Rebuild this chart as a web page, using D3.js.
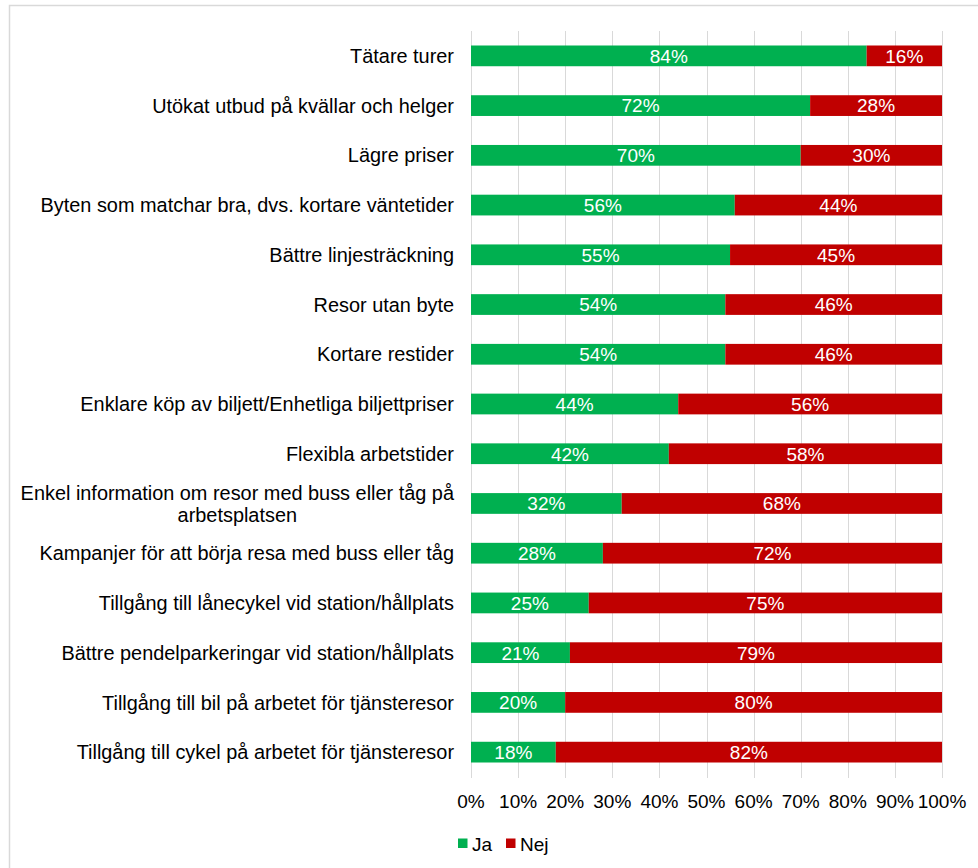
<!DOCTYPE html>
<html>
<head>
<meta charset="utf-8">
<script src="https://cdn.jsdelivr.net/npm/d3@7"></script>
<style>
  html, body { margin: 0; padding: 0; background: #fff; }
  svg { display: block; font-family: "Liberation Sans", Arial, sans-serif; }
</style>
</head>
<body>
<svg id="chart" width="978" height="868"></svg>
<script>
// Survey answers: share of "Ja" per measure; "Nej" is the rest.
const categories = [
  "Tätare turer",
  "Utökat utbud på kvällar och helger",
  "Lägre priser",
  "Byten som matchar bra, dvs. kortare väntetider",
  "Bättre linjesträckning",
  "Resor utan byte",
  "Kortare restider",
  "Enklare köp av biljett/Enhetliga biljettpriser",
  "Flexibla arbetstider",
  "Enkel information om resor med buss eller tåg på\narbetsplatsen",
  "Kampanjer för att börja resa med buss eller tåg",
  "Tillgång till lånecykel vid station/hållplats",
  "Bättre pendelparkeringar vid station/hållplats",
  "Tillgång till bil på arbetet för tjänsteresor",
  "Tillgång till cykel på arbetet för tjänsteresor"
];
const jaValues  = [84, 72, 70, 56, 55, 54, 54, 44, 42, 32, 28, 25, 21, 20, 18];
const nejValues = [16, 28, 30, 44, 45, 46, 46, 56, 58, 68, 72, 75, 79, 80, 82];
const seriesNames = ["Ja", "Nej"];
const tickValues = [0, 10, 20, 30, 40, 50, 60, 70, 80, 90, 100];

const colors = { Ja: "#00B050", Nej: "#C00000" };
const fontSize = 19;
const catFontSize = 19.9;

const svg = d3.select("#chart");

// outer frame
svg.append("rect")
  .attr("x", 9.5).attr("y", 5.5)
  .attr("width", 990).attr("height", 900)
  .attr("fill", "none").attr("stroke", "#d9d9d9").attr("stroke-width", 1.5);

const plot = { left: 471, right: 942, top: 31, bottom: 777 };

const x = d3.scaleLinear().domain([0, 100]).range([plot.left, plot.right]);
const y = d3.scaleBand().domain(categories)
  .range([plot.top, plot.bottom])
  .paddingInner(0.583).paddingOuter(0.2915);

// vertical gridlines
svg.append("g").selectAll("line").data(tickValues).join("line")
  .attr("x1", d => Math.round(x(d)) + 0.5).attr("x2", d => Math.round(x(d)) + 0.5)
  .attr("y1", plot.top).attr("y2", plot.bottom + 1)
  .attr("stroke", "#d9d9d9").attr("stroke-width", 1);

// stacked data
const rows = categories.map((c, i) => ({ cat: c, Ja: jaValues[i], Nej: nejValues[i] }));
const stack = d3.stack().keys(seriesNames)(rows);

const layers = svg.append("g").selectAll("g").data(stack).join("g")
  .attr("fill", s => colors[s.key]);

layers.selectAll("rect").data(s => s.map(d => ({ d, key: s.key }))).join("rect")
  .attr("x", p => x(p.d[0]))
  .attr("width", p => x(p.d[1]) - x(p.d[0]))
  .attr("y", p => y(p.d.data.cat))
  .attr("height", y.bandwidth());

// value labels in segments
layers.selectAll("text").data(s => s.map(d => ({ d, key: s.key }))).join("text")
  .attr("x", p => (x(p.d[0]) + x(p.d[1])) / 2)
  .attr("y", p => y(p.d.data.cat) + y.bandwidth() / 2)
  .attr("dy", "0.36em")
  .attr("text-anchor", "middle")
  .attr("fill", "#fff")
  .attr("font-size", fontSize)
  .text(p => p.d.data[p.key] + "%");

// category labels (multi-line labels are centred within a right-aligned block)
const labelRight = 454;
const catG = svg.append("g").attr("font-size", catFontSize).attr("fill", "#000");
categories.forEach(c => {
  const lines = c.split("\n");
  const cy = y(c) + y.bandwidth() / 2;
  const lh = 22;
  const t = catG.append("text").attr("text-anchor", lines.length > 1 ? "middle" : "end");
  const spans = lines.map((ln, i) =>
    t.append("tspan").attr("y", cy + (i - (lines.length - 1) / 2) * lh).attr("dy", "0.36em").text(ln));
  if (lines.length > 1) {
    const w = d3.max(spans, s => s.node().getComputedTextLength());
    spans.forEach(s => s.attr("x", labelRight - w / 2));
  } else {
    spans.forEach(s => s.attr("x", labelRight));
  }
});

// x axis tick labels
svg.append("g").attr("font-size", fontSize).attr("fill", "#000")
  .selectAll("text").data(tickValues).join("text")
  .attr("x", d => x(d))
  .attr("y", 808)
  .attr("text-anchor", "middle")
  .text(d => d + "%");

// legend
const legend = svg.append("g").attr("font-size", fontSize);
const legendItems = [
  { key: "Ja", sx: 458, tx: 472 },
  { key: "Nej", sx: 506, tx: 520 }
];
legendItems.forEach(it => {
  legend.append("rect").attr("x", it.sx).attr("y", 838.5)
    .attr("width", 9.5).attr("height", 9.5).attr("fill", colors[it.key]);
  legend.append("text").attr("x", it.tx).attr("y", 851)
    .attr("fill", "#000").text(it.key);
});
</script>
</body>
</html>
